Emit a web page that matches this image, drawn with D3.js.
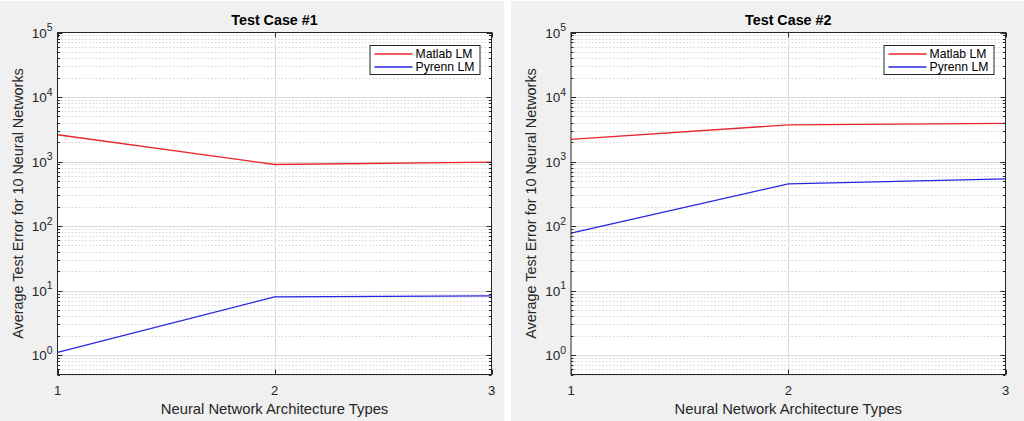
<!DOCTYPE html>
<html><head><meta charset="utf-8">
<script src="https://cdn.jsdelivr.net/npm/d3@7"></script>
<style>
html,body{margin:0;padding:0;background:#fff;}
svg{display:block;}
text{font-family:"Liberation Sans",Arial,Helvetica,sans-serif;}
</style></head>
<body>
<svg id="c" width="1024" height="421"></svg>
<script>
const categories = [1, 2, 3];
const xTickLabels = ["1", "2", "3"];
const seriesNames = ["Matlab LM", "Pyrenn LM"];
const seriesColors = ["#e8262b", "#2626e0"];
const titles = ["Test Case #1", "Test Case #2"];
const case1Matlab = [2600, 900, 980];
const case1Pyrenn = [1.1, 8.0, 8.3];
const case2Matlab = [2200, 3700, 3900];
const case2Pyrenn = [78, 450, 540];
const yTickExps = [0, 1, 2, 3, 4, 5];
const xLabel = "Neural Network Architecture Types";
const yLabel = "Average Test Error for 10 Neural Networks";

const panels = [
  {title: titles[0], series: [case1Matlab, case1Pyrenn], fx: 0, fw: 504, ax: 57.5, aw: 434, lx: 18},
  {title: titles[1], series: [case2Matlab, case2Pyrenn], fx: 511, fw: 513, ax: 571, aw: 434.5, lx: 531}
];

const svg = d3.select("#c");
const axTop = 32.5, axBot = 374.5;

panels.forEach(p => {
  svg.append("rect").attr("x", p.fx).attr("y", 1).attr("width", p.fw).attr("height", 420).attr("fill", "#f0f0f0");
  const x = d3.scaleLinear().domain([1, 3]).range([p.ax, p.ax + p.aw]);
  const y = d3.scaleLog().domain([0.5, 1e5]).range([axBot, axTop]);
  const g = svg.append("g");
  g.append("rect").attr("x", p.ax).attr("y", axTop).attr("width", p.aw).attr("height", axBot - axTop).attr("fill", "#fff");

  // minor grid
  const minor = [];
  for (let e = -1; e <= 4; e++) for (let m = 2; m <= 9; m++) { const v = m * Math.pow(10, e); if (v >= 0.5 && v < 1e5) minor.push(v); }
  g.selectAll(".mg").data(minor).join("line")
    .attr("x1", p.ax).attr("x2", p.ax + p.aw)
    .attr("y1", d => Math.round(y(d)) + 0.5).attr("y2", d => Math.round(y(d)) + 0.5)
    .attr("stroke", "#cfcfcf").attr("stroke-width", 0.9).attr("stroke-dasharray", "1.5,2");
  // major grid
  const majors = yTickExps.map(e => Math.pow(10, e));
  g.selectAll(".Mg").data(majors.filter(v => v < 1e5)).join("line")
    .attr("x1", p.ax).attr("x2", p.ax + p.aw)
    .attr("y1", d => Math.round(y(d)) + 0.5).attr("y2", d => Math.round(y(d)) + 0.5)
    .attr("stroke", "#dadada").attr("stroke-width", 1);
  g.selectAll(".xg").data([2]).join("line")
    .attr("x1", d => Math.round(x(d)) + 0.5).attr("x2", d => Math.round(x(d)) + 0.5)
    .attr("y1", axTop).attr("y2", axBot)
    .attr("stroke", "#dadada").attr("stroke-width", 1);

  // data lines
  const line = d3.line().x((d, i) => x(categories[i])).y(d => y(d));
  p.series.forEach((s, k) => {
    g.append("path").attr("d", line(s)).attr("fill", "none")
      .attr("stroke", seriesColors[k]).attr("stroke-width", 1.3);
  });

  // ticks on left and right (inward)
  const axisColor = "#262626";
  [p.ax, p.ax + p.aw].forEach((xx, side) => {
    const dir = side === 0 ? 1 : -1;
    g.selectAll(null).data(majors).join("line")
      .attr("x1", xx).attr("x2", xx + dir * 5)
      .attr("y1", d => Math.round(y(d)) + 0.5).attr("y2", d => Math.round(y(d)) + 0.5)
      .attr("stroke", axisColor).attr("stroke-width", 1);
    g.selectAll(null).data(minor).join("line")
      .attr("x1", xx).attr("x2", xx + dir * 2.5)
      .attr("y1", d => Math.round(y(d)) + 0.5).attr("y2", d => Math.round(y(d)) + 0.5)
      .attr("stroke", axisColor).attr("stroke-width", 1);
  });
  [axTop, axBot].forEach((yy, side) => {
    const dir = side === 0 ? 1 : -1;
    g.selectAll(null).data(categories).join("line")
      .attr("x1", d => Math.round(x(d)) + 0.5).attr("x2", d => Math.round(x(d)) + 0.5)
      .attr("y1", yy).attr("y2", yy + dir * 5)
      .attr("stroke", axisColor).attr("stroke-width", 1);
  });
  // box
  g.append("rect").attr("x", p.ax).attr("y", axTop).attr("width", p.aw).attr("height", axBot - axTop)
    .attr("fill", "none").attr("stroke", axisColor).attr("stroke-width", 1);

  // y tick labels
  const yl = g.selectAll(".yl").data(yTickExps).join("text")
    .attr("x", p.ax - 5).attr("y", d => y(Math.pow(10, d)) + 5)
    .attr("text-anchor", "end").attr("fill", "#262626").attr("font-size", 13.5);
  yl.append("tspan").text("10");
  yl.append("tspan").attr("dy", -6.5).attr("font-size", 10.5).text(d => d);

  // x tick labels
  g.selectAll(".xl").data(categories).join("text")
    .attr("x", d => x(d)).attr("y", 395).attr("text-anchor", "middle")
    .attr("fill", "#262626").attr("font-size", 13).text((d, i) => xTickLabels[i]);

  // title
  g.append("text").attr("x", p.ax + p.aw / 2).attr("y", 25).attr("text-anchor", "middle")
    .attr("font-weight", "bold").attr("font-size", 14.3).attr("fill", "#000").text(p.title);
  // x label
  g.append("text").attr("x", p.ax + p.aw / 2).attr("y", 414).attr("text-anchor", "middle")
    .attr("font-size", 14.8).attr("fill", "#262626").text(xLabel);
  // y label
  g.append("text").attr("transform", `translate(${p.lx + 5},${(axTop + axBot) / 2}) rotate(-90)`)
    .attr("text-anchor", "middle").attr("font-size", 14.4).attr("fill", "#262626").text(yLabel);

  // legend
  const lgx = p.ax + p.aw - 122, lgy = 45, lgw = 110, lgh = 29;
  const lg = g.append("g");
  lg.append("rect").attr("x", lgx + 0.5).attr("y", lgy + 0.5).attr("width", lgw).attr("height", lgh)
    .attr("fill", "#fff").attr("stroke", axisColor).attr("stroke-width", 1);
  seriesNames.forEach((n, k) => {
    const yy = lgy + 9 + k * 13;
    lg.append("line").attr("x1", lgx + 5).attr("x2", lgx + 43).attr("y1", yy).attr("y2", yy)
      .attr("stroke", seriesColors[k]).attr("stroke-width", 1.3);
    lg.append("text").attr("x", lgx + 46).attr("y", yy + 4).attr("font-size", 12.2)
      .attr("fill", "#000").text(n);
  });
});
</script>
</body></html>
